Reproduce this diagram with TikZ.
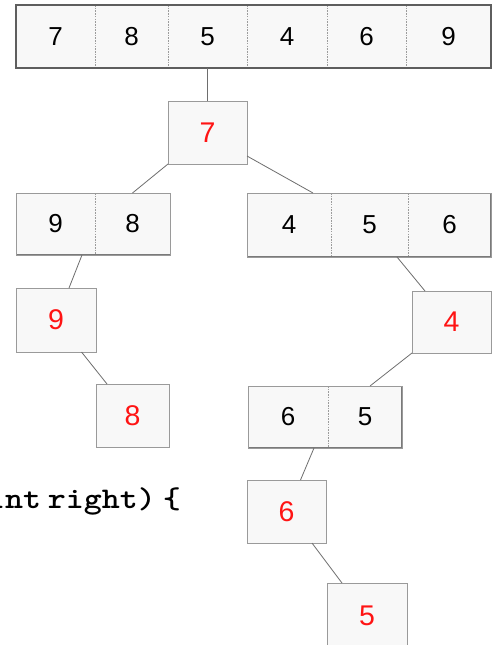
\documentclass[tikz,border=0pt]{standalone}
\usepackage{fontspec}
\setmainfont{Liberation Sans}
\definecolor{cellfill}{HTML}{F8F8F8}
\definecolor{framedark}{HTML}{5E5E5E}
\definecolor{framegray}{HTML}{9A9A9A}
\definecolor{shadegray}{HTML}{7A7A7A}
\definecolor{dividergray}{HTML}{9C9C9C}
\definecolor{linkgray}{HTML}{6E6E6E}
\definecolor{pivotred}{HTML}{FF1414}
\tikzset{
  cell/.style={fill=cellfill, inner sep=0pt, outer sep=0pt,
    font=\fontsize{26}{26}\selectfont, text=black},
  pivotbox/.style={draw=framegray, fill=cellfill, line width=0.8pt,
    inner sep=0pt, outer sep=0pt, text=pivotred,
    font=\fontsize{28.5}{28.5}\selectfont},
  divider/.style={draw=dividergray, line width=0.8pt, dash pattern=on 1.6pt off 1.1pt},
  arrayframe/.style={draw=framegray, line width=0.8pt},
  arrayshade/.style={draw=shadegray, line width=1.6pt},
  topframe/.style={draw=framedark, line width=1.3pt},
  topshade/.style={draw=framedark, line width=2.4pt},
  link/.style={draw=linkgray, line width=0.8pt},
  codetext/.style={anchor=base west, inner sep=0pt, outer sep=0pt,
    xscale=1.143, transform shape,
    font=\ttfamily\bfseries\fontsize{30}{30}\selectfont},
}
\begin{document}
\begin{tikzpicture}[x=1pt, y=-1pt]
\useasboundingbox (0,0) rectangle (493,645);
\clip (0,0) rectangle (493,645);
\fill[white] (0,0) rectangle (493,645);

% input array
\node[cell, minimum width=79pt, minimum height=63pt] (c1) at (55.5,36.5) {7};
\node[cell, minimum width=73pt, minimum height=63pt] (c2) at (131.5,36.5) {8};
\node[cell, minimum width=79pt, minimum height=63pt] (c3) at (207.5,36.5) {5};
\node[cell, minimum width=80pt, minimum height=63pt] (c4) at (287,36.5) {4};
\node[cell, minimum width=79pt, minimum height=63pt] (c5) at (366.5,36.5) {6};
\node[cell, minimum width=85pt, minimum height=63pt] (c6) at (448.5,36.5) {9};
\foreach \n in {c1,c2,c3,c4,c5} \draw[divider] (\n.north east) -- (\n.south east);
\draw[topshade] (c1.south west) -- (c6.south east);
\draw[topframe] (c1.north west) rectangle (c6.south east);

% first pivot
\node[pivotbox, minimum width=79pt, minimum height=63pt] (p7) at (207.5,132.5) {7};

% left part: 9 8
\node[cell, minimum width=79pt, minimum height=62pt] (a1) at (55.5,224) {9};
\node[cell, minimum width=75pt, minimum height=62pt] (a2) at (132.5,224) {8};
\draw[divider] (a1.north east) -- (a1.south east);
\draw[arrayshade] (a1.south west) -- (a2.south east);
\draw[arrayframe] (a1.north west) rectangle (a2.south east);

% right part: 4 5 6
\node[cell, minimum width=84pt, minimum height=64pt] (b1) at (289,225) {4};
\node[cell, minimum width=77pt, minimum height=64pt] (b2) at (369.5,225) {5};
\node[cell, minimum width=83pt, minimum height=64pt] (b3) at (449.5,225) {6};
\draw[divider] (b1.north east) -- (b1.south east);
\draw[divider] (b2.north east) -- (b2.south east);
\draw[arrayshade] (b1.south west) -- (b3.south east);
\draw[arrayshade] (b3.north east) -- (b3.south east);
\draw[arrayframe] (b1.north west) rectangle (b3.south east);

% pivots of the left part
\node[pivotbox, minimum width=80pt, minimum height=64pt] (p9) at (56,320) {9};
\node[pivotbox, minimum width=73pt, minimum height=63pt] (p8) at (132.5,415.5) {8};

% pivots and sub-array of the right part
\node[pivotbox, minimum width=79pt, minimum height=62pt] (p4) at (451.5,322) {4};
\node[cell, minimum width=80pt, minimum height=62pt] (d1) at (288,417) {6};
\node[cell, minimum width=74pt, minimum height=62pt] (d2) at (365,417) {5};
\draw[divider] (d1.north east) -- (d1.south east);
\draw[arrayshade] (d1.south west) -- (d2.south east);
\draw[arrayshade] (d2.north east) -- (d2.south east);
\draw[arrayframe] (d1.north west) rectangle (d2.south east);
\node[pivotbox, minimum width=79pt, minimum height=63pt] (p6) at (286.5,511.5) {6};
\node[pivotbox, minimum width=80pt, minimum height=66pt] (p5) at (367,616) {5};

% connectors
\draw[link] (c3.south) -- (p7.north);
\draw[link] (p7.south west) -- (a2.north);
\draw[link] ([yshift=-23.5pt]p7.east) -- ([xshift=24pt]b1.north);
\draw[link] ([xshift=26.5pt]a1.south) -- ([xshift=13pt]p9.north);
\draw[link] ([xshift=25.5pt]p9.south) -- ([xshift=-25.5pt]p8.north);
\draw[link] ([xshift=27.5pt]b2.south) -- ([xshift=-26.5pt]p4.north);
\draw[link] (p4.south west) -- ([xshift=5pt]d2.north);
\draw[link] ([xshift=26pt]d1.south) -- ([xshift=14pt]p6.north);
\draw[link] ([xshift=25.5pt]p6.south) -- ([xshift=-25pt]p5.north);

% code fragment
\node[codetext] (code) at (-13,508) {\spaceskip=6.1pt int right) \{};
\end{tikzpicture}
\end{document}
